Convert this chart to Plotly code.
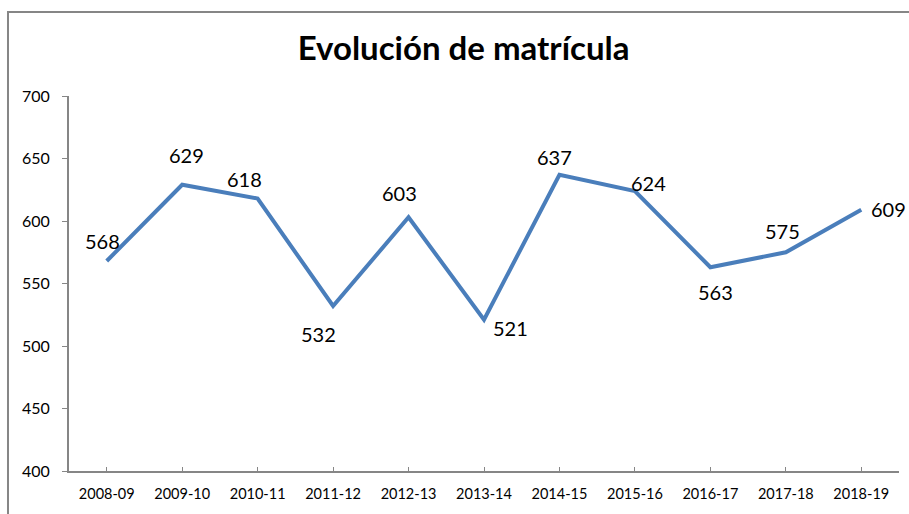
import plotly.graph_objects as go

# Enrolment per academic year
cursos = ["2008-09", "2009-10", "2010-11", "2011-12", "2012-13", "2013-14",
          "2014-15", "2015-16", "2016-17", "2017-18", "2018-19"]
matricula = [568, 629, 618, 532, 603, 521, 637, 624, 563, 575, 609]

# Per-point label offsets (pixels) so labels sit clear of the line
label_dx = [-4, 4, -13, -15, -9, 26, -5, 14, 5, -3, 27]
label_dy = [20, 30, 20, -28, 24, -8, 18, 8, -25, 21, 1]

LINE = "#4A7EBB"
AXIS = "#868686"
FONT = "Lato, 'Open Sans', sans-serif"

fig = go.Figure()
fig.add_trace(go.Scatter(
    x=list(range(len(cursos))), y=matricula, mode="lines",
    line=dict(color=LINE, width=4), hoverinfo="skip", showlegend=False,
))

for i, v in enumerate(matricula):
    fig.add_annotation(
        x=i, y=v, text=str(v), showarrow=False,
        xshift=label_dx[i], yshift=label_dy[i],
        font=dict(family=FONT, size=20, color="#000000"),
    )

fig.update_layout(
    width=909, height=514,
    margin=dict(l=69, r=10, t=96, b=43),
    paper_bgcolor="white", plot_bgcolor="white",
    title=dict(text="<b>Evolución de matrícula</b>", x=0.51, xanchor="center",
               y=0.905, yanchor="middle",
               font=dict(family=FONT, size=33, color="#000000")),
    xaxis=dict(
        range=[-0.5, len(cursos) - 0.5], tickmode="array",
        tickvals=list(range(len(cursos))), ticktext=cursos,
        showgrid=False, zeroline=False, showline=True, linecolor=AXIS, linewidth=2,
        ticks="inside", ticklen=4, tickcolor=AXIS, tickwidth=1,
        ticklabelstandoff=9,
        tickfont=dict(family=FONT, size=14.5, color="#000000"),
    ),
    yaxis=dict(
        range=[400, 700], tickmode="array", tickvals=list(range(400, 701, 50)),
        showgrid=False, zeroline=False, showline=True, linecolor=AXIS, linewidth=2,
        ticks="outside", ticklen=5, tickcolor=AXIS, tickwidth=1,
        ticklabelstandoff=9,
        tickfont=dict(family=FONT, size=16, color="#000000"),
    ),
)

# Chart-area frame
fig.add_shape(type="rect", xref="paper", yref="paper",
              x0=-0.0735, y0=-0.3, x1=1.2, y1=1.224,
              line=dict(color=AXIS, width=2), fillcolor="rgba(0,0,0,0)", layer="below")

fig.write_html("out.html")
